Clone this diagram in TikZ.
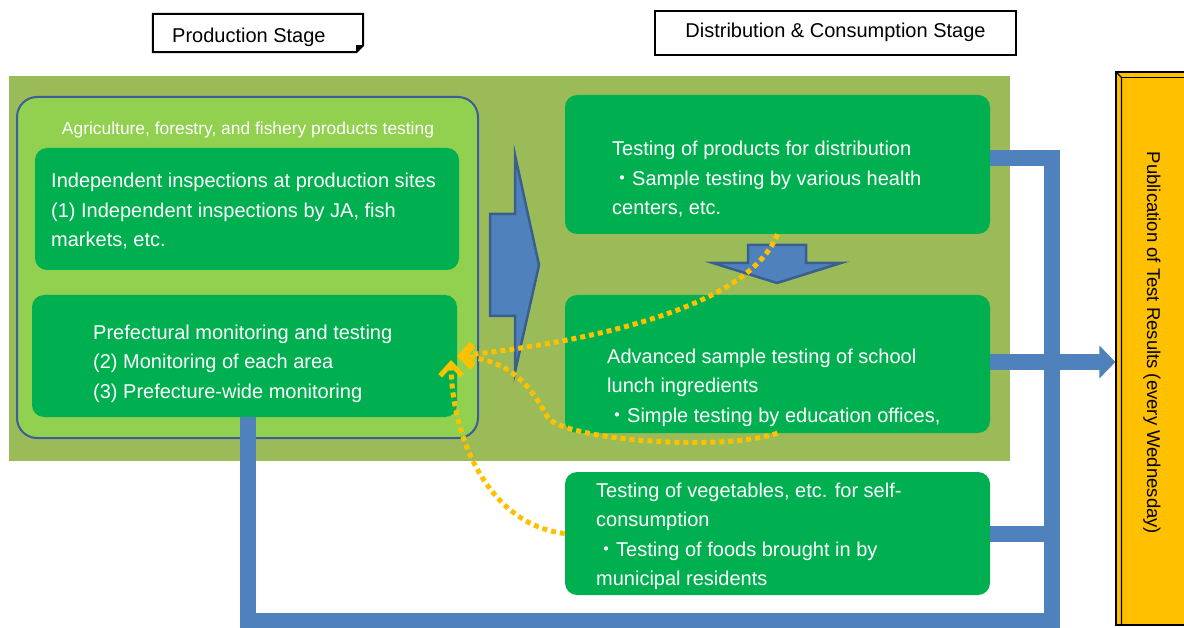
\documentclass[tikz,border=0pt]{standalone}
\usepackage{fontspec}
\setmainfont{Liberation Sans}
\newfontfamily\cjk{Noto Sans CJK JP}
\usetikzlibrary{arrows.meta}
\definecolor{fieldolive}{HTML}{9BBB59}
\definecolor{lightgr}{HTML}{92D050}
\definecolor{boxgreen}{HTML}{00B050}
\definecolor{barblue}{HTML}{4F81BD}
\definecolor{arrowedge}{HTML}{3A5F8F}
\definecolor{frameblue}{HTML}{3D5C99}
\definecolor{amber}{HTML}{FFC000}

\begin{document}
\begin{tikzpicture}[x=1pt,y=-1pt,
  gbox/.style={fill=boxgreen, rounded corners=12, inner sep=0},
  gtext/.style={text=white, align=left, inner sep=0, anchor=west,
    font=\fontsize{20}{29.5}\selectfont},
  stagetxt/.style={inner sep=0, font=\fontsize{20}{24}\selectfont},
  bar/.style={draw=barblue, line width=16, line join=miter},
  dots/.style={draw=amber, line width=5, dash pattern=on 5 off 4,
    -{Straight Barb[length=12,width=22]}}]

	\useasboundingbox (0,0) rectangle (1184,628);

	% stage headers
	\node[minimum width=210, minimum height=38, inner sep=0] (prodstage) at (258,33) {};
	\draw[line width=2] (prodstage.north west) -- (prodstage.north east) -- ([yshift=7]prodstage.south east)
		-- ([xshift=-7]prodstage.south east) -- (prodstage.south west) -- cycle;
	\fill ([yshift=7]prodstage.south east) -- ([xshift=-7,yshift=7]prodstage.south east) -- ([xshift=-7]prodstage.south east) -- cycle;
	\node[stagetxt, anchor=base west] (prodlabel) at (172,43) {Production Stage};

	\node[draw, line width=1.5, minimum width=361, minimum height=44, inner sep=0] (diststage) at (835.5,33) {};
	\node[stagetxt, anchor=base] (distlabel) at (835.5,38) {Distribution \& Consumption Stage};

	% field and production frame
	\fill[fieldolive] (9,76) rectangle (1010,461);
	\filldraw[fill=lightgr, draw=frameblue, line width=2, rounded corners=20] (17,97) rectangle (478,438);
	\node[text=white, inner sep=0, font=\fontsize{17.4}{20}\selectfont] (agritxt) at (248,130)
		{Agriculture, forestry, and fishery products testing};

	% green boxes
	\node[gbox, minimum width=424, minimum height=122] (indep) at (247,209) {};
	\node[gbox, minimum width=425, minimum height=122] (prefmon) at (244.5,356) {};
	\node[gbox, minimum width=425, minimum height=139] (distr) at (777.5,164.5) {};
	\node[gbox, minimum width=425, minimum height=138] (lunch) at (777.5,364) {};
	\node[gbox, minimum width=425, minimum height=123] (selfcons) at (777.5,533.5) {};

	\node[gtext] (indeptxt) at (51,211.5) {Independent inspections at production sites\\(1) Independent inspections by JA, fish\\markets, etc.};
	\node[gtext] (prefmontxt) at (93,363.5) {Prefectural monitoring and testing\\(2) Monitoring of each area\\(3) Prefecture-wide monitoring};
	\node[gtext] (distrtxt) at (612,179.5) {Testing of products for distribution\\{\cjk ・}Sample testing by various health\\centers, etc.};
	\node[gtext] (lunchtxt) at (607,387.5) {Advanced sample testing of school\\lunch ingredients\\{\cjk ・}Simple testing by education offices,};
	\node[gtext] (selfconstxt) at (596,536.5) {Testing of vegetables, etc. for self-\\consumption\\{\cjk ・}Testing of foods brought in by\\municipal residents};

	% block arrows
	\filldraw[fill=barblue, draw=arrowedge, line width=2.5] (490,214) -- (515,214) -- (515,155) -- (539,265)
		-- (515,372) -- (515,316) -- (490,316) -- cycle;
	\filldraw[fill=barblue, draw=arrowedge, line width=2.5] (748,245) -- (806,245) -- (806,263) -- (841,263)
		-- (777,283) -- (713,263) -- (748,263) -- cycle;

	% publication
	\node[draw, fill=amber, line width=1.2, minimum width=74, minimum height=553, inner sep=0] (pub) at (1153,348.5) {};
	\draw[line width=1.2] (pub.north west) -- ([xshift=6,yshift=-6]pub.north west) -- ([xshift=6]pub.south west);
	\draw[line width=1.2] ([xshift=6,yshift=-6]pub.north west) -- ([yshift=-6]pub.north east);
	\node[rotate=-90, inner sep=0, font=\fontsize{18.5}{22}\selectfont] (pubtxt) at (1152,343)
		{Publication of Test Results (every Wednesday)};

	% reporting lines
	\coordinate (busT) at (1052,158);
	\coordinate (busB) at (1052,621);
	\coordinate (busL) at (248,621);
	\draw[bar] ([yshift=6.5]distr.east) -- (busT) -- (busB) -- (busL) -- ([xshift=3.5]prefmon.south);
	\draw[bar] (selfcons.east) -- (selfcons.east -| busT);
	\draw[bar, -{Triangle[length=16,width=32]}] ([yshift=2]lunch.east) -- ([yshift=2]lunch.east -| pub.west);

	% feedback
	\coordinate (fbup) at (451,360);
	\draw[dots] (distr.south) .. controls (745,315) and (560,345) .. (prefmon.east);
	\draw[dots] (lunch.south) .. controls (720,452) and (568,440) .. (548,418)
		.. controls (530,385) and (510,360) .. (prefmon.east);
	\draw[dots] (selfcons.west) .. controls (490,525) and (452,440) .. (fbup);

\end{tikzpicture}
\end{document}
